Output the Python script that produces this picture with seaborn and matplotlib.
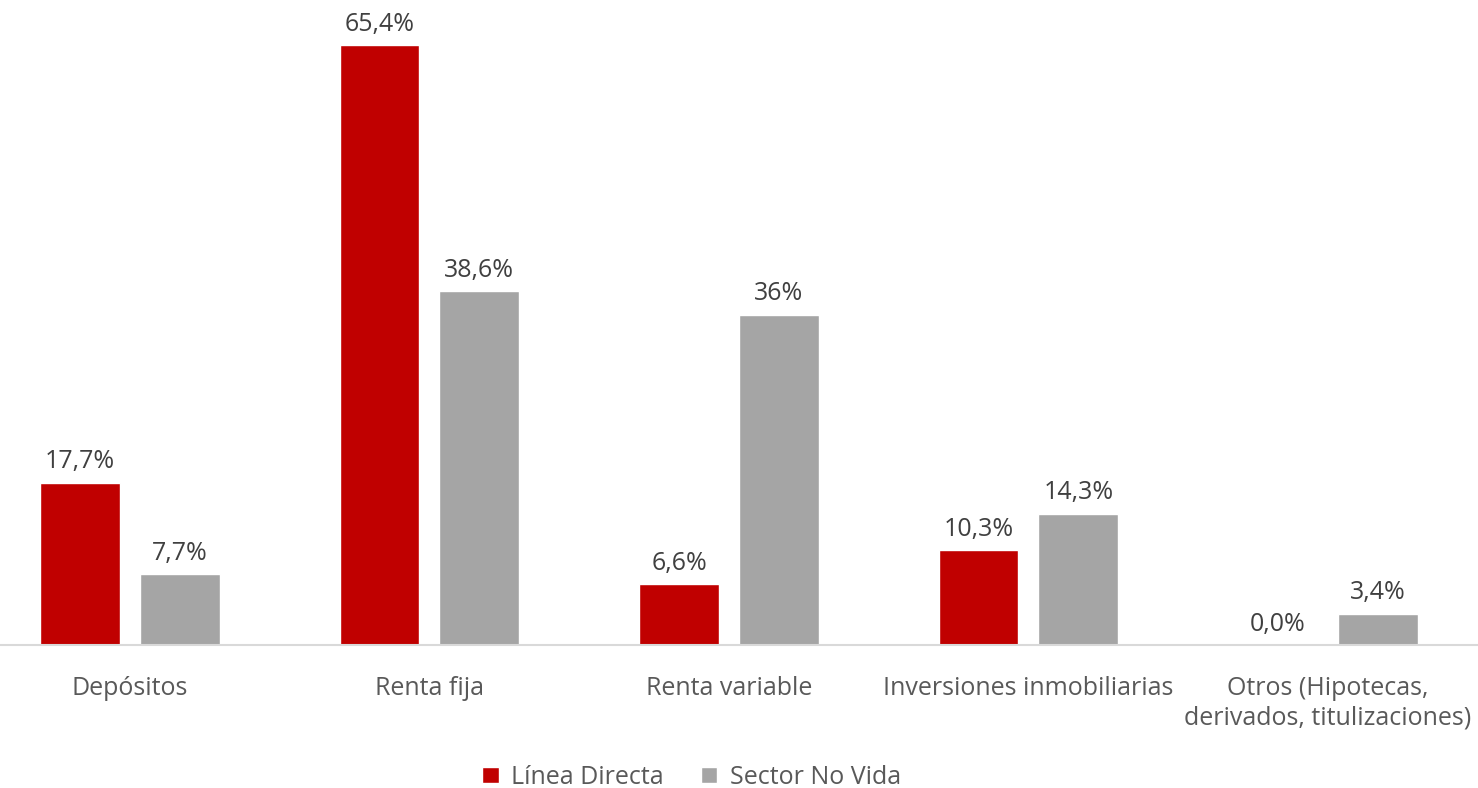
import pandas as pd
import matplotlib.pyplot as plt
import seaborn as sns

categorias = ['Depósitos', 'Renta fija', 'Renta variable', 'Inversiones inmobiliarias',
              'Otros (Hipotecas,\nderivados, titulizaciones)']
linea_directa = [17.7, 65.4, 6.6, 10.3, 0.0]
sector_no_vida = [7.7, 38.6, 36.0, 14.3, 3.4]
etiquetas_ld = ['17,7%', '65,4%', '6,6%', '10,3%', '0,0%']
etiquetas_snv = ['7,7%', '38,6%', '36%', '14,3%', '3,4%']
series = ['Línea Directa', 'Sector No Vida']

data = pd.DataFrame({
    'Categoria': categorias * 2,
    'Valor': linea_directa + sector_no_vida,
    'Serie': [series[0]] * 5 + [series[1]] * 5,
})

sns.set_style('white')
plt.rcParams['font.family'] = ['Open Sans', 'DejaVu Sans']

fig = plt.figure(figsize=(14.78, 7.88), dpi=100)
ax = fig.add_axes([0.0, (788 - 645) / 788, 1.0, 645 / 788])

sns.barplot(data=data, x='Categoria', y='Valor', hue='Serie', ax=ax,
            palette=['#C00000', '#A5A5A5'], width=0.667, gap=0.2,
            saturation=1, legend=True)

for cont, labs in zip(ax.containers, [etiquetas_ld, etiquetas_snv]):
    ax.bar_label(cont, labels=labs, padding=6, fontsize=18, color='#404040')

ax.set_xlim(-0.434, 4.501)
ax.set_ylim(0, 70.3)
ax.set_xlabel('')
ax.set_ylabel('')
ax.set_yticks([])
ax.tick_params(axis='x', length=0, pad=22, labelsize=18, labelcolor='#595959')
for lab in ax.get_xticklabels():
    lab.set_linespacing(1.25)
for s in ['top', 'left', 'right']:
    ax.spines[s].set_visible(False)
ax.spines['bottom'].set_color('#D9D9D9')
ax.spines['bottom'].set_linewidth(1.5)

handles, labels = ax.get_legend_handles_labels()
ax.get_legend().remove()
fig.legend(handles, labels, loc='lower center', bbox_to_anchor=(0.468, -0.031),
           ncol=2, frameon=False, fontsize=18, handlelength=0.65, handleheight=0.65,
           columnspacing=1.5, handletextpad=0.5, labelcolor='#595959')

fig.savefig('out.png', dpi=100)
